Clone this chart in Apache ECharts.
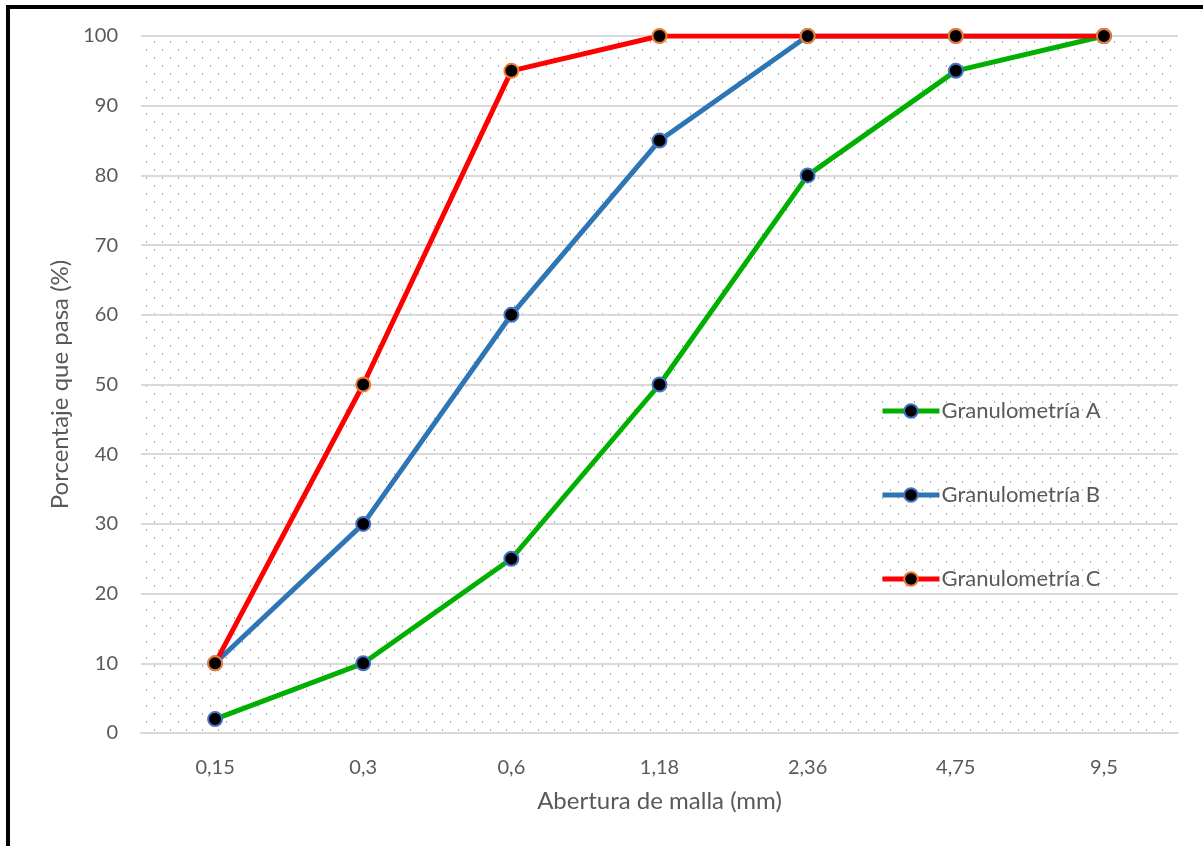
<!DOCTYPE html>
<html><head><meta charset="utf-8">
<script src="https://cdn.jsdelivr.net/npm/echarts@6/dist/echarts.min.js"></script>
<style>html,body{margin:0;padding:0;background:#fff}#c{width:1203px;height:846px}</style>
</head><body><div id="c"></div>
<script>
const categories = ['0,15','0,3','0,6','1,18','2,36','4,75','9,5'];
const seriesA = [2,10,25,50,80,95,100];
const seriesB = [10,30,60,85,100,100,100];
const seriesC = [10,50,95,100,100,100,100];
const yTicks = {min:0,max:100,interval:10};

const tile = document.createElement('canvas');
tile.width = 16; tile.height = 16;
const tc = tile.getContext('2d');
tc.fillStyle = '#ffffff'; tc.fillRect(0,0,16,16);
tc.fillStyle = '#b0b0b0';
tc.fillRect(2,1,1,2);
tc.fillRect(10,9,1,2);

const FONT = 'Lato, "Open Sans", sans-serif';
const chart = echarts.init(document.getElementById('c'), null, {renderer:'canvas'});
function mk(name, data, lineColor, borderColor){
  return {name, type:'line', data, symbol:'circle', symbolSize:14,
    lineStyle:{color:lineColor,width:5},
    itemStyle:{color:'#000',borderColor:borderColor,borderWidth:2},
    emphasis:{disabled:true}, z:3};
}
chart.setOption({
  animation:false,
  backgroundColor:'#fff',
  graphic:[{type:'rect',shape:{x:8,y:7,width:1300,height:900},style:{fill:'none',stroke:'#000',lineWidth:4},z:100}],
  grid:{left:141,right:25,top:36,bottom:113,show:true,borderWidth:0,
    backgroundColor:{image:tile,repeat:'repeat'}},
  legend:{orient:'vertical',left:880,top:400,padding:0,itemGap:62,itemWidth:57,itemHeight:17,
    lineStyle:{width:5},
    data:['Granulometría A','Granulometría B','Granulometría C'],
    textStyle:{fontFamily:FONT,fontSize:22,color:'#595959',padding:[0,0,0,-3]}},
  xAxis:{type:'category',data:categories,boundaryGap:true,
    name:'Abertura de malla (mm)',nameLocation:'middle',nameGap:56,
    nameTextStyle:{fontFamily:FONT,fontSize:24,color:'#595959'},
    axisLine:{lineStyle:{color:'#d9d9d9',width:2}},axisTick:{show:false},
    axisLabel:{fontFamily:FONT,fontSize:20,color:'#595959',margin:25}},
  yAxis:{type:'value',min:yTicks.min,max:yTicks.max,interval:yTicks.interval,
    name:'Porcentaje que pasa (%)',nameLocation:'middle',nameGap:67,
    nameTextStyle:{fontFamily:FONT,fontSize:24,color:'#595959'},
    axisLine:{show:false},axisTick:{show:false},
    axisLabel:{fontFamily:FONT,fontSize:20,color:'#595959',margin:23},
    splitLine:{lineStyle:{color:'#d9d9d9',width:2}}},
  series:[
    mk('Granulometría A',seriesA,'#00B000','#4472C4'),
    mk('Granulometría B',seriesB,'#2E75B6','#4472C4'),
    mk('Granulometría C',seriesC,'#FF0000','#ED7D31')
  ]
});
</script></body></html>
